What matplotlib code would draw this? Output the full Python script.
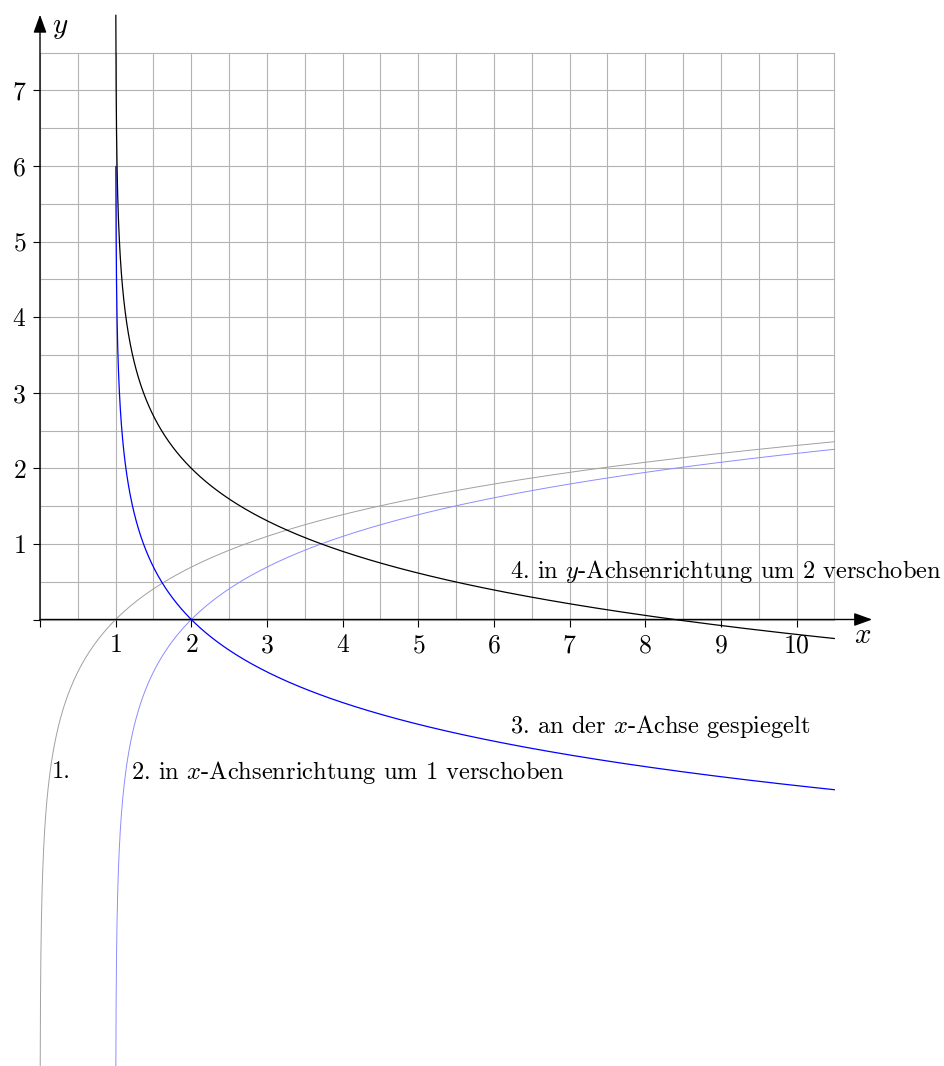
import numpy as np
import matplotlib
matplotlib.use("Agg")
import matplotlib.pyplot as plt

plt.rcParams['mathtext.fontset'] = 'cm'
plt.rcParams['font.family'] = ['cmr10', 'DejaVu Serif']
plt.rcParams['axes.formatter.use_mathtext'] = True

# Data: natural log transformations
x_ticks = list(range(1, 11))
y_ticks = list(range(1, 8))
x_tick_labels = [str(v) for v in x_ticks]
y_tick_labels = [str(v) for v in y_ticks]
x_start = 0.0025          # smallest argument of ln
x_end = 10.5
shift_x = 1
shift_y = 2
blue_clip = 6.0

labels = ["1.", "2. in $x$-Achsenrichtung um 1 verschoben",
          "3. an der $x$-Achse gespiegelt",
          "4. in $y$-Achsenrichtung um 2 verschoben"]

px_unit_x = 75.65
px_unit_y = 75.6
W, H = 944, 1066
fig = plt.figure(figsize=(W/100, H/100), dpi=100)
ax = fig.add_axes([0, 0, 1, 1])
ax.set_xlim(-40/px_unit_x, (W-40)/px_unit_x)
ax.set_ylim(-(H-619.5)/px_unit_y, 619.5/px_unit_y)

# grid
gc = '#b3b3b3'
for gx in np.arange(0, 10.51, 0.5):
    ax.plot([gx, gx], [0, 7.5], color=gc, lw=0.8, zorder=1)
for gy in np.arange(0, 7.51, 0.5):
    ax.plot([0, 10.5], [gy, gy], color=gc, lw=0.8, zorder=1)

# curves
x1 = np.geomspace(x_start, x_end, 2000)
ax.plot(x1, np.log(x1), color='#a0a0a0', lw=0.7, zorder=3)
x2 = shift_x + np.geomspace(x_start, x_end - shift_x, 2000)
ax.plot(x2, np.log(x2 - shift_x), color='#8c8cff', lw=0.7, zorder=3)
y3 = -np.log(x2 - shift_x)
m = y3 <= blue_clip
ax.plot(x2[m], y3[m], color='#0000ff', lw=0.9, zorder=4)
ax.plot(x2, shift_y - np.log(x2 - shift_x), color='black', lw=0.9, zorder=4)

# axes with arrows
for s in ax.spines.values():
    s.set_visible(False)
ax.spines['left'].set_position(('data', 0))
ax.spines['bottom'].set_position(('data', 0))
astyle = '-|>,head_length=1.1,head_width=0.4'
ax.annotate('', xy=(11.0, 0), xytext=(0, 0),
            arrowprops=dict(arrowstyle=astyle, color='black', lw=1.0,
                            shrinkA=0, shrinkB=0), zorder=5)
ax.annotate('', xy=(0, 8.0), xytext=(0, 0),
            arrowprops=dict(arrowstyle=astyle, color='black', lw=1.0,
                            shrinkA=0, shrinkB=0), zorder=5)

ax.set_xticks([0] + x_ticks)
ax.set_xticklabels([''] + ['$%s$' % t for t in x_tick_labels])
ax.set_yticks([0] + y_ticks)
ax.set_yticklabels([''] + ['$%s$' % t for t in y_tick_labels])
ax.tick_params(axis='both', direction='out', length=5, width=0.8, labelsize=18.5, pad=5)

ax.text(10.87, -0.21, '$x$', fontsize=21, ha='center', va='center')
ax.text(0.27, 7.83, '$y$', fontsize=21, ha='center', va='center')

fs = 17.6
ax.text(0.16, -2.02, labels[0], fontsize=fs, ha='left', va='center')
ax.text(1.2, -2.02, labels[1], fontsize=fs, ha='left', va='center')
ax.text(6.21, -1.42, labels[2], fontsize=fs, ha='left', va='center')
ax.text(6.21, 0.63, labels[3], fontsize=fs, ha='left', va='center')

fig.savefig('out.png', dpi=100)
